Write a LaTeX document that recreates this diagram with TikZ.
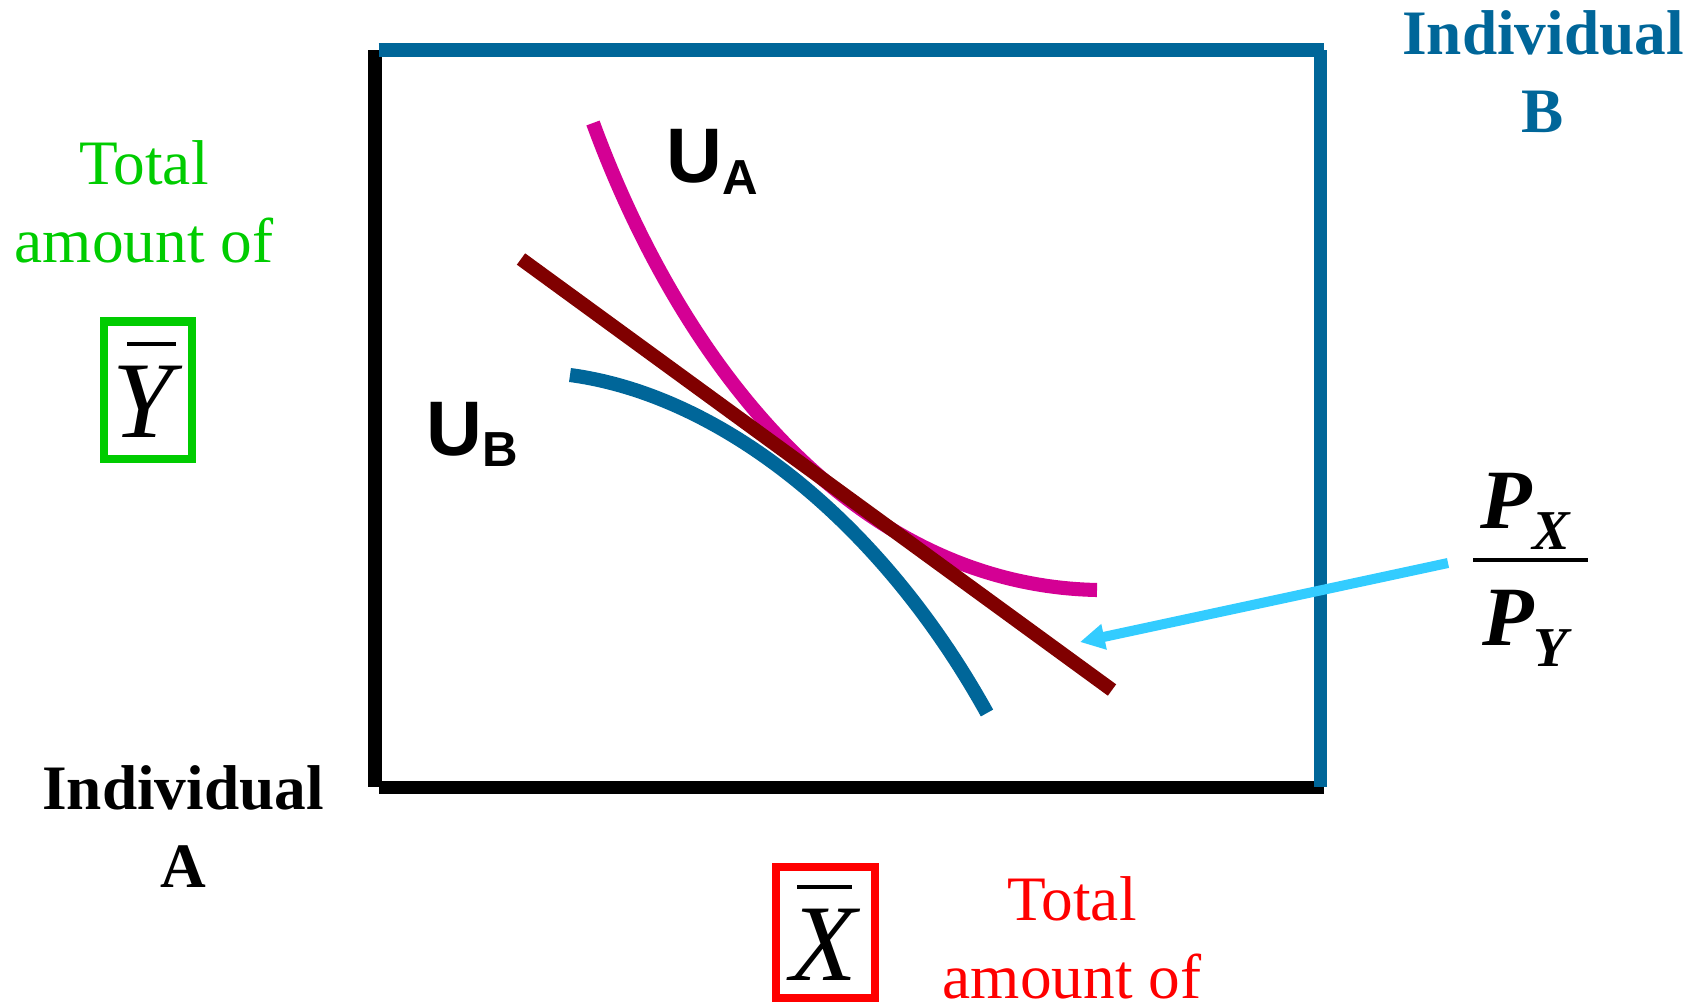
\documentclass[tikz,border=0pt]{standalone}
\usepackage{fontspec}
\setmainfont{Liberation Serif}
\setsansfont{Liberation Sans}
\usetikzlibrary{arrows.meta}

\definecolor{bblue}{RGB}{0,102,153}
\definecolor{umag}{RGB}{212,0,148}
\definecolor{budget}{RGB}{128,0,0}
\definecolor{pcyan}{RGB}{51,204,255}
\definecolor{ygreen}{RGB}{0,204,0}
\definecolor{xred}{RGB}{255,0,0}

\newcommand{\barred}[3]{\makebox[0pt][l]{\hspace{#2}\raisebox{0.84em}{\rule{#3}{0.037em}}}\textit{#1}}

\begin{document}
\begin{tikzpicture}[x=0.01cm, y=-0.01cm, >={Triangle[length=7pt,width=7pt]},
  frame/.style={line width=3.7pt},
  curve/.style={line width=4pt},
  total/.style={align=center, anchor=base, font=\fontsize{18}{22}\selectfont},
  indiv/.style={align=center, anchor=base, font=\bfseries\fontsize{18}{22}\selectfont},
  ulabel/.style={anchor=base west, inner sep=0pt, font=\sffamily\bfseries\fontsize{22}{22}\selectfont},
  endow/.style={draw, line width=2.3pt, inner sep=0pt, text=black, font=\fontsize{31}{31}\selectfont},
  ratio/.style={anchor=base, inner sep=0pt, font=\bfseries\itshape\fontsize{24}{24}\selectfont}]
  \useasboundingbox (0,0) rectangle (1691,1003);

  \coordinate (O) at (375,787);
  \coordinate (TL) at (375,50);
  \coordinate (TR) at (1320,50);
  \coordinate (BR) at (1320,787);

  \draw[frame] (TL) -- (O);
  \draw[frame] ([xshift=1]O) -- ([xshift=1]BR);
  \draw[frame, bblue] ([xshift=1]TL) -- ([xshift=1]TR);
  \draw[frame, bblue] (TR) -- (BR);

  \coordinate (A0) at (593,123);
  \coordinate (A1) at (1097,590);
  \coordinate (B0) at (570,375);
  \coordinate (B1) at (987,713);
  \coordinate (L0) at (521,259);
  \coordinate (L1) at (1112,690);

  \draw[curve, umag] (A0) .. controls (680,360) and (850,585) .. (A1);
  \draw[curve, bblue] (B0) .. controls (720,395) and (880,520) .. (B1);
  \draw[curve, budget] (L0) -- (L1);

  \node[ulabel] (UA) at (666,182) {U\raisebox{-0.12cm}{\fontsize{14}{14}\selectfont A}};
  \node[ulabel] (UB) at (426,455) {U\raisebox{-0.11cm}{\fontsize{14}{14}\selectfont B}};

  \node[total, ygreen] (totY) at (144,262) {Total\\amount of};
  \node[endow, draw=ygreen, minimum width=0.88cm, minimum height=1.37cm] (Ybar) at (148,390)
    {\barred{Y}{0.13em}{0.45em}};

  \node[endow, draw=xred, minimum width=0.99cm, minimum height=1.31cm] (Xbar) at (825.5,932.5)
    {\barred{X}{0.06em}{0.5em}};
  \node[total, xred] (totX) at (1072,998) {Total\\amount of};

  \node[indiv] (indA) at (183,887) {Individual\\A};
  \node[indiv, bblue] (indB) at (1543,132) {Individual\\B};

  \node[ratio] (Pnum) at (1525,528) {P\raisebox{-0.26em}{\fontsize{16}{16}\selectfont X}};
  \node[ratio] (Pden) at (1525,645) {P\raisebox{-0.26em}{\fontsize{16}{16}\selectfont Y}};
  \coordinate (FL) at (1473,560);
  \coordinate (FR) at (1588,560);
  \draw[line width=1pt] (FL) -- (FR);

  \coordinate (tail) at (1448,563);
  \coordinate (tip) at (1080,642);
  \draw[->, pcyan, line width=2.85pt] (tail) -- (tip);
\end{tikzpicture}
\end{document}
